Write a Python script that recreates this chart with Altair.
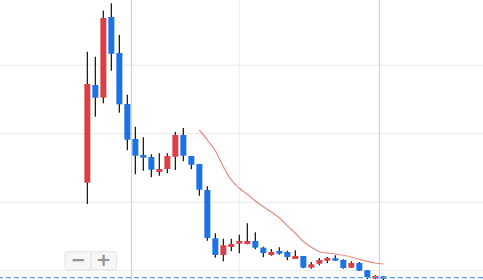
import altair as alt
import pandas as pd

# candle index, OHLC values
idx = list(range(38))
opens  = [22.85, 37.11, 35.26, 47.04, 41.78, 34.34, 29.23, 26.89, 26.60, 24.41,
          24.85, 26.64, 29.81, 26.74, 25.58, 21.78, 14.73, 12.29, 13.46, 13.94,
          13.90, 14.34, 13.36, 12.29, 12.88, 12.73, 11.71, 12.15, 10.44, 11.02,
          11.46, 11.81, 11.56, 10.44, 11.12, 10.06, 8.83, 9.18]
closes = [37.26, 35.26, 46.89, 41.68, 34.29, 29.12, 26.79, 26.50, 24.74, 24.85,
          26.74, 29.81, 26.79, 25.47, 21.82, 14.77, 12.29, 13.71, 13.90, 14.34,
          14.34, 13.36, 12.58, 12.73, 12.48, 12.00, 12.15, 10.44, 10.93, 11.56,
          11.85, 11.46, 10.39, 11.12, 10.00, 9.08, 9.23, 8.83]
highs  = [41.97, 41.24, 47.96, 49.04, 44.41, 35.69, 31.02, 29.47, 26.99, 27.14,
          27.14, 30.29, 30.83, 26.74, 25.58, 22.32, 15.46, 14.67, 14.67, 15.26,
          16.92, 15.61, 13.50, 13.17, 13.42, 12.92, 12.98, 12.15, 11.27, 11.85,
          12.00, 12.25, 11.66, 11.37, 11.27, 10.06, 9.33, 9.18]
lows   = [19.74, 32.48, 34.44, 39.20, 33.07, 27.58, 24.07, 24.60, 23.64, 23.87,
          24.22, 24.70, 25.97, 24.80, 20.95, 14.38, 11.90, 11.37, 12.83, 12.54,
          13.85, 13.12, 11.96, 12.19, 12.34, 11.52, 11.71, 10.35, 10.29, 10.79,
          11.08, 11.46, 10.29, 10.44, 10.00, 8.74, 8.74, 8.64]

# moving average line (starts at candle 14)
ma_idx = list(range(14, 38))
ma_vals = [30.54, 29.08, 27.52, 25.18, 23.24, 22.03, 21.15, 20.18, 19.34, 18.57,
           17.74, 16.57, 15.46, 14.26, 13.42, 12.77, 12.58, 12.44, 12.25, 12.00,
           11.66, 11.37, 11.12, 10.98]

price_grid = [10, 20, 30, 40]
time_grid = [5.5, 19, 36.5]
time_grid_color = ["#cdcdcd", "#ececec", "#cdcdcd"]
last_price = 8.98

RED = "#dc3f46"
BLUE = "#1a73e8"

df = pd.DataFrame({"i": idx, "open": opens, "close": closes, "high": highs, "low": lows})
df["dir"] = ["up" if c >= o else "down" for o, c in zip(opens, closes)]
ma_df = pd.DataFrame({"i": ma_idx, "ma": ma_vals})
hg = pd.DataFrame({"p": price_grid})
vg = pd.DataFrame({"t": time_grid, "c": time_grid_color})
lp = pd.DataFrame({"p": [last_price]})

xs = alt.Scale(domain=[-10.92, 49.46], nice=False, zero=False)
ys = alt.Scale(domain=[8.64, 49.52], nice=False, zero=False)

hgrid = alt.Chart(hg).mark_rule(color="#e8e8e8", strokeWidth=1).encode(
    y=alt.Y("p:Q", scale=ys, axis=None))
vgrid = alt.Chart(vg).mark_rule(strokeWidth=1).encode(
    x=alt.X("t:Q", scale=xs, axis=None),
    color=alt.Color("c:N", scale=None, legend=None))

base = alt.Chart(df)
wicks = base.mark_rule(color="#1f1f1f", strokeWidth=1.3).encode(
    x=alt.X("i:Q", scale=xs, axis=None),
    y=alt.Y("low:Q", scale=ys, axis=None),
    y2="high:Q")
bodies = base.transform_calculate(
    x0="datum.i - 0.375", x1="datum.i + 0.375"
).mark_rect().encode(
    x=alt.X("x0:Q", scale=xs, axis=None),
    x2="x1:Q",
    y=alt.Y("open:Q", scale=ys, axis=None),
    y2="close:Q",
    color=alt.Color("dir:N", scale=alt.Scale(domain=["up", "down"], range=[RED, BLUE]), legend=None))

ma = alt.Chart(ma_df).mark_line(color="#e8897e", strokeWidth=1.2, interpolate="monotone").encode(
    x=alt.X("i:Q", scale=xs, axis=None),
    y=alt.Y("ma:Q", scale=ys, axis=None))

lastline = alt.Chart(lp).mark_rule(color="#5b9be0", strokeWidth=1.3, strokeDash=[5, 3]).encode(
    y=alt.Y("p:Q", scale=ys, axis=None))

# zoom buttons
one = pd.DataFrame({"a": [0]})
btn_box = alt.Chart(one).mark_rect(
    color="#f6f6f6", stroke="#e4e4e4", strokeWidth=1, cornerRadius=2).encode(
    x=alt.value(65), x2=alt.value(116.7), y=alt.value(251.7), y2=alt.value(270))
btn_sep = alt.Chart(one).mark_rule(color="#e3e3e3").encode(
    x=alt.value(90.8), y=alt.value(252.5), y2=alt.value(269.5))
btn_minus = alt.Chart(one).mark_text(
    font="DejaVu Sans", fontSize=18, fontWeight="bold", color="#959595", baseline="middle", text="−").encode(
    x=alt.value(78.3), y=alt.value(261))
btn_plus = alt.Chart(one).mark_text(
    font="DejaVu Sans", fontSize=18, fontWeight="bold", color="#959595", baseline="middle", text="+").encode(
    x=alt.value(103.5), y=alt.value(261))

chart = alt.layer(hgrid, vgrid, ma, wicks, bodies, lastline, btn_box, btn_sep, btn_minus, btn_plus).properties(
    width=483, height=280, padding=0, autosize="none"
).configure_view(stroke=None)

chart.save("out.html", embed_options={"renderer": "svg", "actions": False})
